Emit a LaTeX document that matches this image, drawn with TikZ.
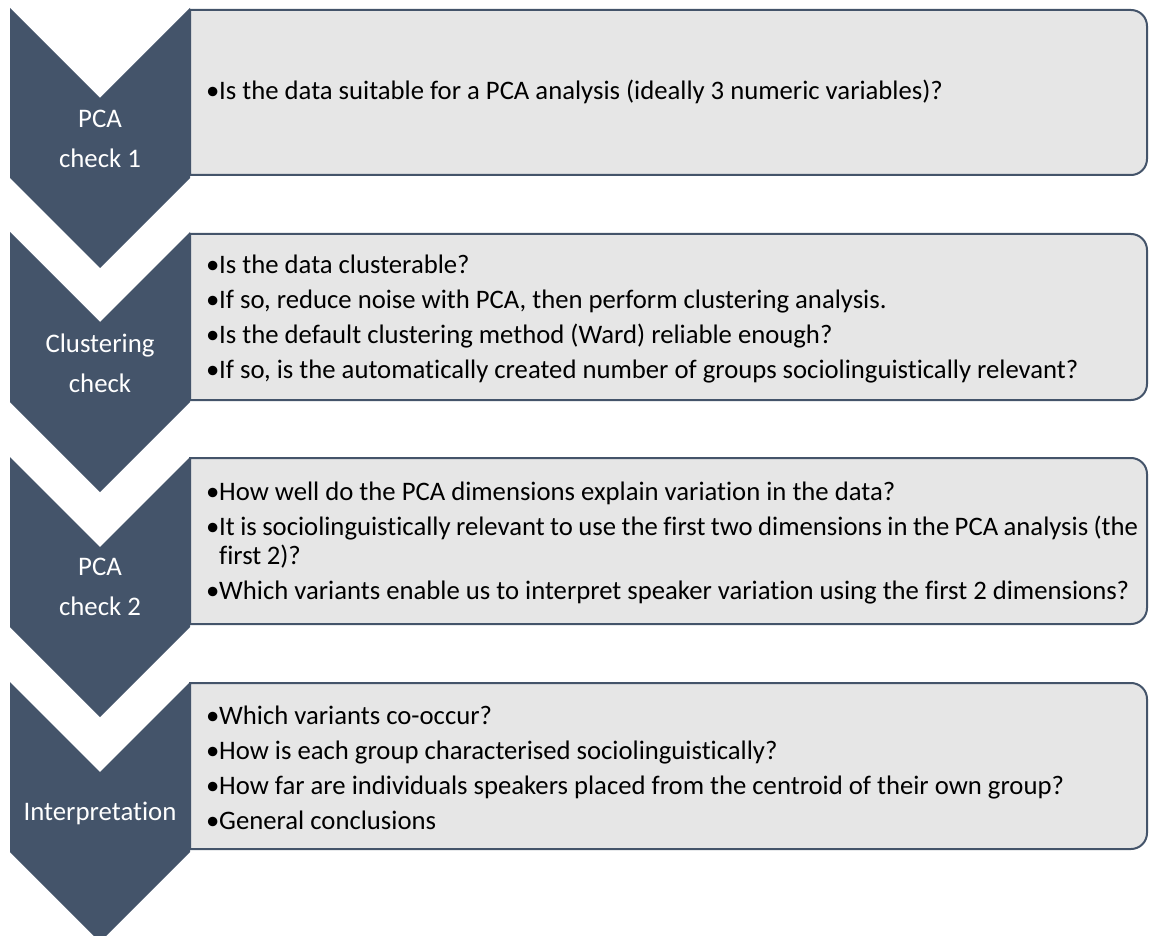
\documentclass[tikz,border=0pt]{standalone}
\usepackage{fontspec}
\setmainfont{Carlito}[Ligatures={NoCommon}]
\definecolor{chev}{HTML}{44546A}
\definecolor{boxfill}{HTML}{E6E6E6}
\newcommand\bulf[1]{\spaceskip=0pt\xspaceskip=0pt\hangindent=13pt\hangafter=1\noindent\makebox[13pt][l]{•}#1}
\newcommand\bul[1]{\par\vspace{6.5pt}\bulf{#1}}
\begin{document}
\begin{tikzpicture}[x=1pt,y=-1pt,
  chevshape/.style={fill=chev,draw=none},
  boxshape/.style={fill=boxfill,draw=chev,line width=2pt},
  chevlabel/.style={text=white,font=\fontsize{26.8}{40}\selectfont,align=center,inner sep=0pt},
  boxtext/.style={font=\fontsize{26.7}{28.5}\selectfont,text width=960pt,align=left,inner sep=0pt,anchor=west}]
\useasboundingbox (0,0) rectangle (1149,936);
% boxes
\path[boxshape] (190,10) -- (1131,10) arc[start angle=-90,end angle=0,radius=16] -- (1147,159) arc[start angle=0,end angle=90,radius=16] -- (190,175) -- cycle;
\path[boxshape] (190,234) -- (1131,234) arc[start angle=-90,end angle=0,radius=16] -- (1147,384) arc[start angle=0,end angle=90,radius=16] -- (190,400) -- cycle;
\path[boxshape] (190,458) -- (1131,458) arc[start angle=-90,end angle=0,radius=16] -- (1147,608) arc[start angle=0,end angle=90,radius=16] -- (190,624) -- cycle;
\path[boxshape] (190,683) -- (1131,683) arc[start angle=-90,end angle=0,radius=16] -- (1147,833) arc[start angle=0,end angle=90,radius=16] -- (190,849) -- cycle;
% chevrons
\path[chevshape] (10,8) -- (100,98) -- (190,8) -- (190,178) -- (100,268) -- (10,178) -- cycle;
\path[chevshape] (10,232) -- (100,322) -- (190,232) -- (190,402) -- (100,492) -- (10,402) -- cycle;
\path[chevshape] (10,457) -- (100,547) -- (190,457) -- (190,627) -- (100,717) -- (10,627) -- cycle;
\path[chevshape] (10,682) -- (100,772) -- (190,682) -- (190,852) -- (100,942) -- (10,852) -- cycle;
% chevron labels
\node[chevlabel] (c1) at (100,138.5) {PCA\\check 1};
\node[chevlabel] (c2) at (100,363) {Clustering\\check};
\node[chevlabel] (c3) at (100,587) {PCA\\check 2};
\node[chevlabel] (c4) at (100,813) {Interpretation};
% box texts
\node[boxtext] (t1) at (206,92) {\bulf{Is the data suitable for a PCA analysis (ideally 3 numeric variables)?}};
\node[boxtext] (t2) at (206,319) {\bulf{Is the data clusterable?}\bul{If so, reduce noise with PCA, then perform clustering analysis.}\bul{Is the default clustering method (Ward) reliable enough?}\bul{If so, is the automatically created number of groups sociolinguistically relevant?}};
\node[boxtext] (t3) at (206,543) {\bulf{How well do the PCA dimensions explain variation in the data?}\bul{\spaceskip=0.9\fontdimen2\font It is sociolinguistically relevant to use the first two dimensions in the PCA analysis (the\newline first 2)?}\bul{Which variants enable us to interpret speaker variation using the first 2 dimensions?}};
\node[boxtext] (t4) at (206,768) {\bulf{Which variants co-occur?}\bul{How is each group characterised sociolinguistically?}\bul{How far are individuals speakers placed from the centroid of their own group?}\bul{General conclusions}};
\end{tikzpicture}
\end{document}
